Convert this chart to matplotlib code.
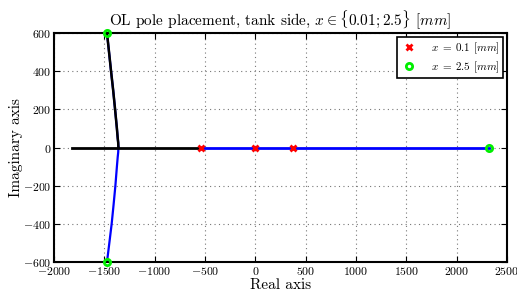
import numpy as np
from matplotlib import pyplot as plt

plt.rcParams['font.family'] = 'cmr10'
plt.rcParams['mathtext.fontset'] = 'cm'
plt.rcParams['axes.formatter.use_mathtext'] = True

# poles at x = 0.1 mm and x = 2.5 mm
poles_a_re = [-540, 0, 370]
poles_a_im = [0, 0, 0]
poles_b_re = [2320, -1473, -1473]
poles_b_im = [0, 598, -598]

# locus branches
real_black_re = [-1820, -540]
real_blue_re = [-540, 2320]
upper_re = [-1360, -1362, -1367, -1375, -1393, -1412, -1433, -1453, -1473]
upper_im = [0, 25, 50, 100, 200, 300, 400, 500, 598]
lower_re = [-1360, -1362, -1367, -1375, -1390, -1408, -1427, -1450, -1473]
lower_im = [0, -25, -50, -100, -200, -300, -400, -500, -598]

fig = plt.figure(figsize=(5.17, 2.93), dpi=100)
ax = fig.add_axes([0.1044, 0.1058, 0.8763, 0.7812])

ax.plot(real_blue_re, [0, 0], color='blue', lw=2, zorder=2)
ax.plot(lower_re, lower_im, color='blue', lw=1.6, zorder=2)
ax.plot(upper_re, upper_im, color='blue', lw=1.6, zorder=2)
ax.plot(real_black_re, [0, 0], color='black', lw=2, zorder=3)
ax.plot(upper_re, upper_im, color='black', lw=1.8, zorder=3)

ax.plot(poles_a_re, poles_a_im, 'x', color='red', ms=4.5, mew=2, ls='none',
        label=r'$x\;=\;0.1$ $[mm]$', zorder=4, clip_on=False)
ax.plot(poles_b_re, poles_b_im, 'o', mec='#00ee00', mfc='none', ms=4.5, mew=2,
        ls='none', label=r'$x\;=\;2.5$ $[mm]$', zorder=4, clip_on=False)

ax.set_xlim(-2000, 2500)
ax.set_ylim(-600, 600)
ax.set_xticks(np.arange(-2000, 2501, 500))
ax.set_yticks(np.arange(-600, 601, 200))
ax.grid(True, linestyle=(0, (1, 3)), color='#777777', lw=0.8)
ax.tick_params(direction='in', top=True, right=True, labelsize=8.5, length=4, pad=2)
for s in ax.spines.values():
    s.set_linewidth(1.5)

ax.set_title(r'OL pole placement, tank side, $x \in \{0.01; 2.5\}$ $[mm]$', fontsize=11, pad=5)
ax.set_xlabel('Real axis', fontsize=11, labelpad=1)
ax.set_ylabel('Imaginary axis', fontsize=11, labelpad=0)

leg = ax.legend(loc='upper right', fontsize=8, fancybox=False, framealpha=1,
                edgecolor='black', borderaxespad=0.35, handletextpad=1.2,
                handlelength=1.6, borderpad=0.3, labelspacing=0.3)
leg.get_frame().set_linewidth(1.2)

plt.savefig('out.png', dpi=100)
